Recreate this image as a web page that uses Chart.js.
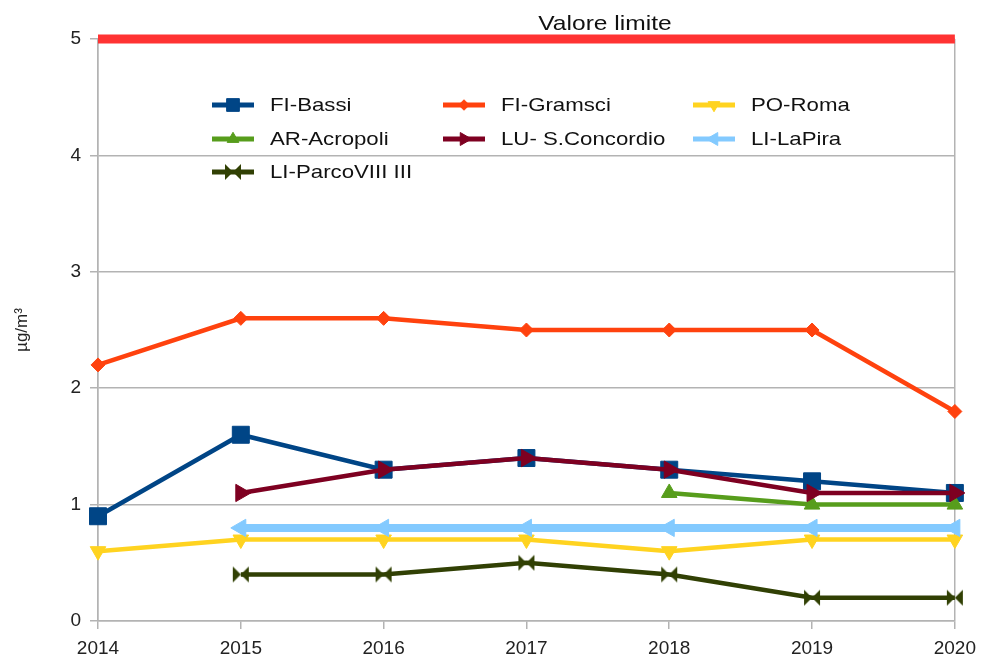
<!DOCTYPE html>
<html>
<head>
<meta charset="utf-8">
<title>Valore limite</title>
<script src="https://cdn.jsdelivr.net/npm/chart.js@4"></script>
<style>
    html, body { margin: 0; padding: 0; background: #fff; }
    #wrap { width: 984px; height: 660px; }
</style>
</head>
<body>
<div id="wrap"><canvas id="myChart" width="984" height="660"></canvas></div>
<script>
// chart data
var years = ['2014', '2015', '2016', '2017', '2018', '2019', '2020'];
var fiBassi = [0.9, 1.6, 1.3, 1.4, 1.3, 1.2, 1.1];
var fiGramsci = [2.2, 2.6, 2.6, 2.5, 2.5, 2.5, 1.8];
var poRoma = [0.6, 0.7, 0.7, 0.7, 0.6, 0.7, 0.7];
var arAcropoli = [null, null, null, null, 1.1, 1.0, 1.0];
var luConcordio = [null, 1.1, 1.3, 1.4, 1.3, 1.1, 1.1];
var liLaPira = [null, 0.8, 0.8, 0.8, 0.8, 0.8, 0.8];
var liParco = [null, 0.4, 0.4, 0.5, 0.4, 0.2, 0.2];
var valoreLimite = [5, 5, 5, 5, 5, 5, 5];
var yTicks = [0, 1, 2, 3, 4, 5];

(function () {
    "use strict";

    var FONT = '"Liberation Sans", Arial, sans-serif';
    var STRETCH = 1.17; // text in the plot looks a bit wide

    // bow tie marker for LI-ParcoVIII III
    function bowtie(color) {
        var c = document.createElement('canvas');
        c.width = 18; c.height = 18;
        var g = c.getContext('2d');
        g.fillStyle = color;
        g.beginPath();
        g.moveTo(1, 1); g.lineTo(9, 9); g.lineTo(1, 17); g.closePath();
        g.moveTo(17, 1); g.lineTo(9, 9); g.lineTo(17, 17); g.closePath();
        g.fill();
        return c;
    }

    function serie(label, data, color, style, radius, rot, width) {
        return {
            label: label,
            data: data,
            borderColor: color,
            backgroundColor: color,
            borderWidth: width || 4.5,
            pointStyle: style,
            pointRadius: radius,
            pointHoverRadius: radius,
            pointRotation: rot || 0,
            pointBorderWidth: 1,
            tension: 0,
            spanGaps: false
        };
    }

    var datasets = [
        serie('FI-Bassi', fiBassi, '#004586', 'rect', 12),
        serie('FI-Gramsci', fiGramsci, '#ff420e', 'rectRot', 7),
        serie('PO-Roma', poRoma, '#ffd320', 'triangle', 9, 180),
        serie('AR-Acropoli', arAcropoli, '#579d1c', 'triangle', 9),
        serie('LU- S.Concordio', luConcordio, '#7e0021', 'triangle', 10, 90),
        serie('LI-LaPira', liLaPira, '#83caff', 'triangle', 10, -90, 8),
        serie('LI-ParcoVIII III', liParco, '#314004', bowtie('#314004'), 9)
    ];
    datasets.forEach(function (d, i) { d.order = 20 - i; });
    datasets.push({
        label: 'Valore limite',
        data: valoreLimite,
        borderColor: '#ff3333',
        borderWidth: 9,
        pointRadius: 0,
        pointHoverRadius: 0,
        clip: false,
        order: 0,
        isLimit: true
    });

    function wideText(c, text, x, y, align) {
        c.save();
        c.translate(x, y);
        c.scale(STRETCH, 1);
        c.textAlign = align;
        c.fillText(text, 0, 0);
        c.restore();
    }

    // legend drawn inside the plot area, three columns
    var legendCols = [212, 443, 693];
    var legendRows = [105, 139, 172];
    var innerLegend = {
        id: 'innerLegend',
        afterDatasetsDraw: function (chart) {
            var c = chart.ctx;
            var xs = chart.scales.x;
            var ys = chart.scales.y;
            c.save();
            // limit label
            c.fillStyle = '#111';
            c.font = '21px ' + FONT;
            c.textBaseline = 'middle';
            wideText(c, 'Valore limite', xs.getPixelForValue(3.55), ys.getPixelForValue(5) - 15, 'center');

            c.font = '19px ' + FONT;
            chart.data.datasets.forEach(function (d, i) {
                if (d.isLimit) return;
                var x = legendCols[i % 3];
                var y = legendRows[Math.floor(i / 3)];
                c.strokeStyle = d.borderColor;
                c.lineWidth = 5;
                c.beginPath();
                c.moveTo(x, y);
                c.lineTo(x + 42, y);
                c.stroke();
                c.fillStyle = d.backgroundColor;
                c.strokeStyle = d.borderColor;
                c.lineWidth = 1;
                Chart.helpers.drawPoint(c, {
                    pointStyle: d.pointStyle,
                    rotation: d.pointRotation,
                    radius: d.pointStyle === 'rect' ? 9 : d.pointRadius * 0.75,
                    borderWidth: 1
                }, x + 21, y);
                c.fillStyle = '#111';
                wideText(c, d.label, x + 58, y + 1, 'left');
            });
            c.restore();
        }
    };

    var ctx = document.getElementById('myChart').getContext('2d');
    var chart = new Chart(ctx, {
        type: 'line',
        data: {
            labels: years,
            datasets: datasets
        },
        options: {
            responsive: false,
            animation: false,
            events: [],
            layout: {
                padding: { top: 39, right: 26, bottom: 0, left: 0 }
            },
            plugins: {
                legend: { display: false },
                tooltip: { enabled: false }
            },
            scales: {
                x: {
                    type: 'category',
                    offset: false,
                    grid: {
                        color: function (c) {
                            return (c.index === 0 || c.index === years.length - 1) ? '#b3b3b3' : 'rgba(0,0,0,0)';
                        },
                        tickColor: '#b3b3b3',
                        tickLength: 8,
                        lineWidth: 1.5
                    },
                    border: { color: '#b3b3b3', width: 1.5 },
                    ticks: {
                        color: '#222',
                        font: { family: FONT, size: 19 },
                        padding: 8,
                        maxRotation: 0
                    },
                    afterFit: function (s) { s.height = 39; }
                },
                y: {
                    min: 0,
                    max: 5,
                    afterBuildTicks: function (s) {
                        s.ticks = yTicks.map(function (v) { return { value: v }; });
                    },
                    grid: {
                        color: '#b3b3b3',
                        tickLength: 8,
                        lineWidth: 1.5
                    },
                    border: { color: '#b3b3b3', width: 1.5 },
                    ticks: {
                        color: '#222',
                        font: { family: FONT, size: 19 },
                        padding: 9
                    },
                    title: {
                        display: true,
                        text: 'µg/m³',
                        color: '#222',
                        font: { family: FONT, size: 17 },
                        padding: { top: 12, bottom: 0 }
                    },
                    afterFit: function (s) { s.width = 98; }
                }
            }
        },
        plugins: [innerLegend]
    });
})();
</script>
</body>
</html>
